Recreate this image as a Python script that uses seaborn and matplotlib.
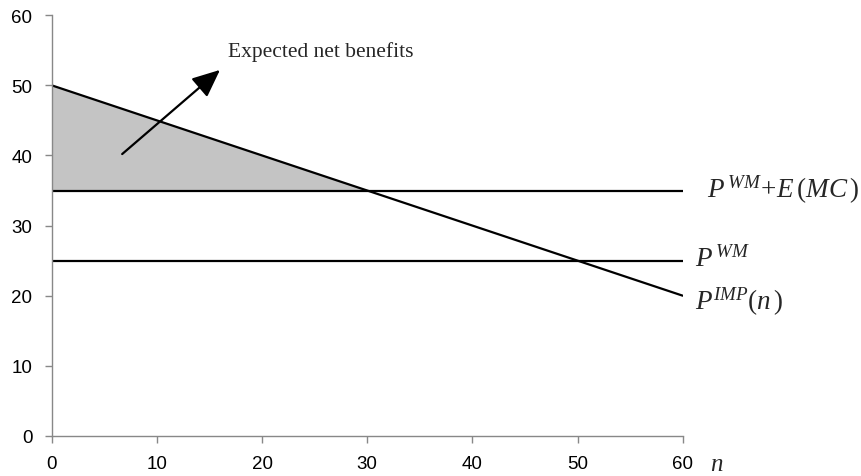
import matplotlib
matplotlib.use("Agg")
import matplotlib.pyplot as plt
import seaborn as sns
import pandas as pd

# values
n = [0, 60]
p_imp = [50, 20]
p_wm = [25, 25]
p_wm_mc = [35, 35]
shade_n = [0, 30]
shade_top = [50, 35]
xticks = [0, 10, 20, 30, 40, 50, 60]
yticks = [0, 10, 20, 30, 40, 50, 60]

sns.set_style("ticks")
plt.rcParams["font.family"] = ["Liberation Sans", "DejaVu Sans"]
plt.rcParams["mathtext.fontset"] = "custom"
plt.rcParams["mathtext.rm"] = "Liberation Serif"
plt.rcParams["mathtext.it"] = "Liberation Serif:italic"

df = pd.DataFrame({"n": n, "imp": p_imp, "wm": p_wm, "wm_mc": p_wm_mc})

fig = plt.figure(figsize=(8.62, 4.77), dpi=100)
ax = fig.add_axes([0.060, 0.084, 0.732, 0.882])

ax.fill_between(shade_n, shade_top, [35, 35], color="#c4c4c4", linewidth=0)
for col in ["imp", "wm", "wm_mc"]:
    sns.lineplot(data=df, x="n", y=col, ax=ax, color="black", linewidth=1.6)

ax.set_xlim(0, 60)
ax.set_ylim(0, 60)
ax.set_xticks(xticks)
ax.set_yticks(yticks)
ax.set_xlabel("")
ax.set_ylabel("")
ax.tick_params(labelsize=13.5, colors="#888888", labelcolor="black", length=5, width=1)
ax.tick_params(axis="x", pad=9)
ax.tick_params(axis="y", pad=9)
sns.despine(ax=ax)
for s in ["left", "bottom"]:
    ax.spines[s].set_color("#888888")
    ax.spines[s].set_linewidth(1)

ax.annotate("", xy=(16.0, 52.2), xytext=(6.7, 40.2),
            arrowprops=dict(arrowstyle="-|>,head_length=1.7,head_width=0.75",
                            color="black", lw=1.6, shrinkA=0, shrinkB=0))
ax.text(16.8, 54.9, "Expected net benefits", family="Liberation Serif",
        fontsize=15.5, va="center", ha="left")

ax.text(62.3, 35.2, r"$P^{\,WM}\!+\!E\,(MC\,)$", fontsize=19.5, va="center",
        ha="left", clip_on=False)
ax.text(61.2, 25.3, r"$P^{\,WM}$", fontsize=19.5, va="center", ha="left",
        clip_on=False)
ax.text(61.2, 19.2, r"$P^{IMP}(n\,)$", fontsize=19.5, va="center", ha="left",
        clip_on=False)
ax.text(62.6, -3.8, r"$n$", fontsize=18, va="center", ha="left",
        clip_on=False)

fig.savefig("out.png", dpi=100)
